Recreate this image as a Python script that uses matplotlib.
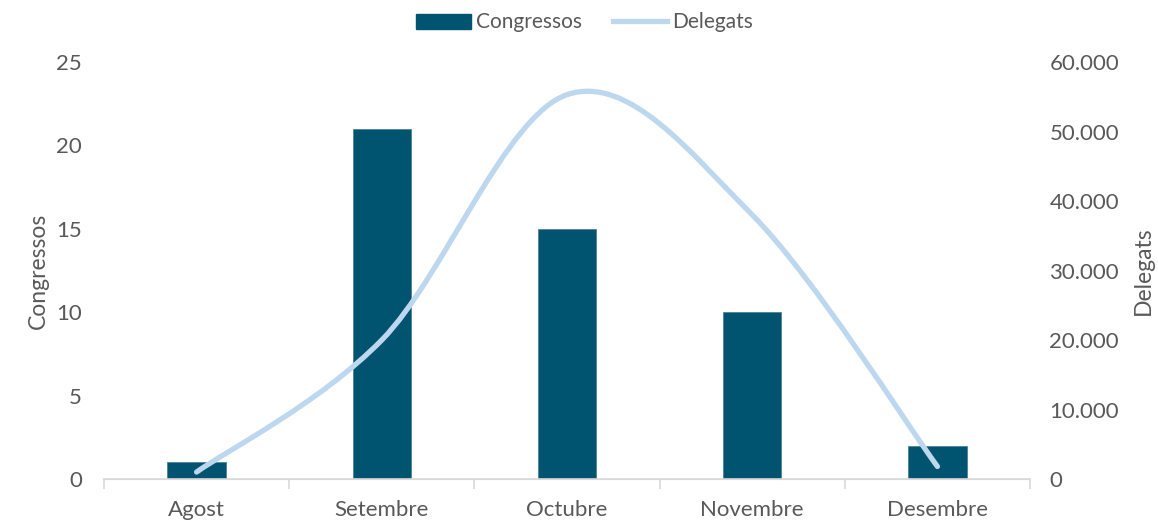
import matplotlib
matplotlib.use("Agg")
import matplotlib.pyplot as plt
import numpy as np
from matplotlib.path import Path
from matplotlib.patches import PathPatch
from matplotlib.lines import Line2D
from matplotlib.ticker import FuncFormatter

months = ['Agost', 'Setembre', 'Octubre', 'Novembre', 'Desembre']
congressos = [1, 21, 15, 10, 2]
delegats = [1000, 20000, 55300, 38000, 1800]

bar_color = '#00546F'
line_color = '#BDD7EE'
text_color = '#595959'

plt.rcParams['font.family'] = ['Lato', 'DejaVu Sans']

fig = plt.figure(figsize=(11.58, 5.21), dpi=100)
ax = fig.add_axes([0.0898, 0.0806, 0.7997, 0.8004])
ax2 = ax.twinx()

x = np.arange(len(months))
ax.bar(x, congressos, width=0.315, color=bar_color, edgecolor='#4F8296', linewidth=0.6, zorder=2)
ax.set_xlim(-0.5, len(months) - 0.5)
ax.set_ylim(0, 25)
ax.set_yticks([0, 5, 10, 15, 20, 25])

# smoothed line (Excel style): bezier segments through the data points
pts = np.column_stack([x, delegats]).astype(float)
verts = [pts[0]]
codes = [Path.MOVETO]
for i in range(len(pts) - 1):
    p0 = pts[max(i - 1, 0)]
    p1 = pts[i]
    p2 = pts[i + 1]
    p3 = pts[min(i + 2, len(pts) - 1)]
    verts += [p1 + (p2 - p0) / 6, p2 - (p3 - p1) / 6, p2]
    codes += [Path.CURVE4] * 3
ax2.add_patch(PathPatch(Path(verts, codes), facecolor='none', edgecolor=line_color,
                        linewidth=3.8, capstyle='round', zorder=3))
ax2.set_ylim(0, 60000)
ax2.set_yticks(range(0, 60001, 10000))
ax2.yaxis.set_major_formatter(FuncFormatter(lambda v, p: f'{int(v):,}'.replace(',', '.')))

for a in (ax, ax2):
    for s in ('top', 'right', 'left'):
        a.spines[s].set_visible(False)
    a.spines['bottom'].set_color('#D9D9D9')
    a.tick_params(axis='y', length=0, labelsize=16, labelcolor=text_color)
ax.tick_params(axis='y', pad=16)
ax2.tick_params(axis='y', pad=14)
ax.spines['bottom'].set_linewidth(1.2)

ax.set_xticks(x)
ax.set_xticklabels(months)
ax.tick_params(axis='x', length=0, labelsize=16, labelcolor=text_color, pad=15)
ax.set_xticks(np.arange(-0.5, len(months), 1), minor=True)
ax.tick_params(axis='x', which='minor', length=7, color='#D9D9D9', width=1.2)

ax.set_ylabel('Congressos', fontsize=16.5, color=text_color, labelpad=5)
ax2.set_ylabel('Delegats', fontsize=16.5, color=text_color, labelpad=10)

handles = [plt.Rectangle((0, 0), 1, 1, color=bar_color),
           Line2D([0], [0], color=line_color, linewidth=3.8)]
fig.legend(handles, ['Congressos', 'Delegats'], loc='center', bbox_to_anchor=(0.505, 0.957),
           ncol=2, frameon=False, fontsize=15, labelcolor=text_color,
           handlelength=2.6, handleheight=0.75, columnspacing=1.5, handletextpad=0.25)

fig.savefig('out.png', dpi=100)
